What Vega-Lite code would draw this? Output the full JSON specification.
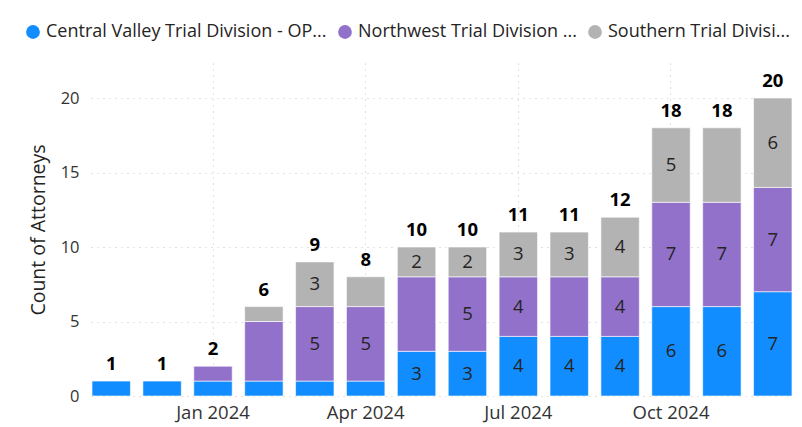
{
  "$schema": "https://vega.github.io/schema/vega-lite/v6.json",
  "width": 702,
  "height": 333,
  "autosize": {"type": "none"},
  "padding": {"left": 91, "top": 63, "right": 9, "bottom": 31},
  "background": "#ffffff",
  "config": {
    "font": "Open Sans",
    "view": {"stroke": null},
    "axis": {"domain": false, "ticks": false}
  },
  "data": {
    "values": [
      {"month": "Nov 2023", "division": "Central Valley Trial Division - OP...", "count": 1, "label": ""},
      {"month": "Dec 2023", "division": "Central Valley Trial Division - OP...", "count": 1, "label": ""},
      {"month": "Jan 2024", "division": "Central Valley Trial Division - OP...", "count": 1, "label": ""},
      {"month": "Jan 2024", "division": "Northwest Trial Division ...", "count": 1, "label": ""},
      {"month": "Feb 2024", "division": "Central Valley Trial Division - OP...", "count": 1, "label": ""},
      {"month": "Feb 2024", "division": "Northwest Trial Division ...", "count": 4, "label": ""},
      {"month": "Feb 2024", "division": "Southern Trial Divisi...", "count": 1, "label": ""},
      {"month": "Mar 2024", "division": "Central Valley Trial Division - OP...", "count": 1, "label": ""},
      {"month": "Mar 2024", "division": "Northwest Trial Division ...", "count": 5, "label": "5"},
      {"month": "Mar 2024", "division": "Southern Trial Divisi...", "count": 3, "label": "3"},
      {"month": "Apr 2024", "division": "Central Valley Trial Division - OP...", "count": 1, "label": ""},
      {"month": "Apr 2024", "division": "Northwest Trial Division ...", "count": 5, "label": "5"},
      {"month": "Apr 2024", "division": "Southern Trial Divisi...", "count": 2, "label": ""},
      {"month": "May 2024", "division": "Central Valley Trial Division - OP...", "count": 3, "label": "3"},
      {"month": "May 2024", "division": "Northwest Trial Division ...", "count": 5, "label": ""},
      {"month": "May 2024", "division": "Southern Trial Divisi...", "count": 2, "label": "2"},
      {"month": "Jun 2024", "division": "Central Valley Trial Division - OP...", "count": 3, "label": "3"},
      {"month": "Jun 2024", "division": "Northwest Trial Division ...", "count": 5, "label": "5"},
      {"month": "Jun 2024", "division": "Southern Trial Divisi...", "count": 2, "label": "2"},
      {"month": "Jul 2024", "division": "Central Valley Trial Division - OP...", "count": 4, "label": "4"},
      {"month": "Jul 2024", "division": "Northwest Trial Division ...", "count": 4, "label": "4"},
      {"month": "Jul 2024", "division": "Southern Trial Divisi...", "count": 3, "label": "3"},
      {"month": "Aug 2024", "division": "Central Valley Trial Division - OP...", "count": 4, "label": "4"},
      {"month": "Aug 2024", "division": "Northwest Trial Division ...", "count": 4, "label": ""},
      {"month": "Aug 2024", "division": "Southern Trial Divisi...", "count": 3, "label": "3"},
      {"month": "Sep 2024", "division": "Central Valley Trial Division - OP...", "count": 4, "label": "4"},
      {"month": "Sep 2024", "division": "Northwest Trial Division ...", "count": 4, "label": "4"},
      {"month": "Sep 2024", "division": "Southern Trial Divisi...", "count": 4, "label": "4"},
      {"month": "Oct 2024", "division": "Central Valley Trial Division - OP...", "count": 6, "label": "6"},
      {"month": "Oct 2024", "division": "Northwest Trial Division ...", "count": 7, "label": "7"},
      {"month": "Oct 2024", "division": "Southern Trial Divisi...", "count": 5, "label": "5"},
      {"month": "Nov 2024", "division": "Central Valley Trial Division - OP...", "count": 6, "label": "6"},
      {"month": "Nov 2024", "division": "Northwest Trial Division ...", "count": 7, "label": "7"},
      {"month": "Nov 2024", "division": "Southern Trial Divisi...", "count": 5, "label": ""},
      {"month": "Dec 2024", "division": "Central Valley Trial Division - OP...", "count": 7, "label": "7"},
      {"month": "Dec 2024", "division": "Northwest Trial Division ...", "count": 7, "label": "7"},
      {"month": "Dec 2024", "division": "Southern Trial Divisi...", "count": 6, "label": "6"}
    ]
  },
  "encoding": {
    "x": {
      "field": "month",
      "type": "ordinal",
      "sort": ["Nov 2023", "Dec 2023", "Jan 2024", "Feb 2024", "Mar 2024", "Apr 2024", "May 2024", "Jun 2024", "Jul 2024", "Aug 2024", "Sep 2024", "Oct 2024", "Nov 2024", "Dec 2024"],
      "scale": {"paddingInner": 0.245, "paddingOuter": 0.02},
      "axis": {
        "title": null,
        "values": ["Jan 2024", "Apr 2024", "Jul 2024", "Oct 2024"],
        "labelAngle": 0,
        "labelFontSize": 18.5,
        "labelColor": "#333333",
        "labelPadding": 7,
        "grid": true,
        "gridDash": [1, 5],
        "gridColor": "#c4c4c4",
        "gridWidth": 1
      }
    }
  },
  "layer": [
    {
      "mark": {"type": "bar", "stroke": "#ffffff", "strokeWidth": 1, "strokeOpacity": 0.6},
      "encoding": {
        "y": {
          "field": "count",
          "type": "quantitative",
          "aggregate": "sum",
          "stack": "zero",
          "scale": {"domain": [0, 22.35], "nice": false},
          "axis": {
            "title": "Count of Attorneys",
            "titleFontSize": 19.5,
            "titleFontWeight": "normal",
            "titleColor": "#252423",
            "titlePadding": 12,
            "values": [0, 5, 10, 15, 20],
            "labelFontSize": 16.5,
            "labelColor": "#333333",
            "labelPadding": 12,
            "grid": true,
            "gridDash": [1, 5],
            "gridColor": "#c4c4c4"
          }
        },
        "color": {
          "field": "division",
          "type": "nominal",
          "sort": ["Central Valley Trial Division - OP...", "Northwest Trial Division ...", "Southern Trial Divisi..."],
          "scale": {
            "domain": ["Central Valley Trial Division - OP...", "Northwest Trial Division ...", "Southern Trial Divisi..."],
            "range": ["#118DFF", "#9271CB", "#B3B3B3"]
          },
          "legend": {
            "title": null,
            "orient": "none",
            "direction": "horizontal",
            "legendX": -67,
            "legendY": -40,
            "symbolType": "circle",
            "symbolSize": 190,
            "symbolStrokeWidth": 0,
            "labelFontSize": 18,
            "labelLimit": 0,
            "labelColor": "#252423",
            "labelOffset": 4,
            "columnPadding": 9,
            "padding": 0
          }
        },
        "order": {"field": "division", "sort": "ascending"}
      }
    },
    {
      "mark": {"type": "text", "fontSize": 18.5, "color": "#252423"},
      "encoding": {
        "y": {"field": "count", "type": "quantitative", "aggregate": "sum", "stack": "zero", "bandPosition": 0.5},
        "text": {"field": "label"},
        "detail": {"field": "division"},
        "order": {"field": "division", "sort": "ascending"}
      }
    },
    {
      "mark": {"type": "text", "fontSize": 18.5, "fontWeight": "bold", "color": "#000000", "baseline": "bottom", "dy": -7},
      "encoding": {
        "y": {"field": "count", "type": "quantitative", "aggregate": "sum"},
        "text": {"field": "count", "type": "quantitative", "aggregate": "sum"}
      }
    }
  ]
}
